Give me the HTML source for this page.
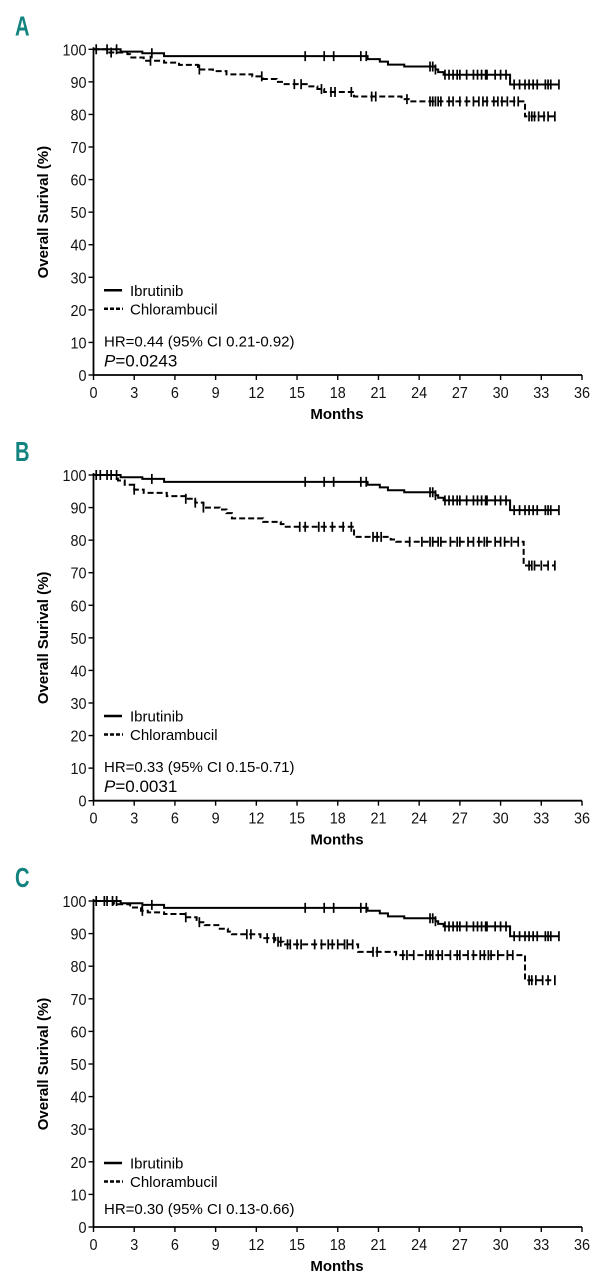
<!DOCTYPE html>
<html><head><meta charset="utf-8"><style>
html,body{margin:0;padding:0;background:#fff;}
svg{display:block;font-family:"Liberation Sans",Arial,sans-serif;}
</style></head><body>
<svg id="fig" width="601" height="1280" viewBox="0 0 601 1280"></svg>
<script>
// ---- data ----
const xTicks = [0,3,6,9,12,15,18,21,24,27,30,33,36];
const yTicks = [0,10,20,30,40,50,60,70,80,90,100];
const panelLabels = ["A","B","C"];
const hrTexts = ["HR=0.44 (95% CI 0.21-0.92)","HR=0.33 (95% CI 0.15-0.71)","HR=0.30 (95% CI 0.13-0.66)"];
const pTexts = ["=0.0243","=0.0031",""];
// Ibrutinib step curve (same in all panels): times, survival
const ibrT = [0,2.0,3.6,5.2,20.2,21.1,21.7,22.9,25.2,25.4,25.8,30.7,34.3];
const ibrS = [100,99.3,98.8,97.9,97.0,96.2,95.3,94.7,93.8,93.0,92.2,89.2,89.2];
const ibrCens = [0.2,1.0,1.7,4.3,15.6,17.0,17.7,19.7,20.1,24.8,25.0,25.2,25.9,26.2,26.5,26.8,27.0,27.5,28.0,28.3,28.6,28.9,29.0,29.6,30.0,30.4,31.0,31.4,31.8,32.1,32.4,32.7,33.3,33.5,33.7,34.3];
// Chlorambucil panels
const chlTA = [0,1.0,2.5,2.7,3.7,5.2,6.3,7.7,8.8,9.8,11.7,12.5,13.5,14.0,15.8,16.5,17.0,19.2,22.7,23.3,31.8,34.0];
const chlSA = [100,99.0,98.5,97.5,96.5,95.9,95.2,93.8,93.3,92.3,91.7,90.9,90.0,89.3,88.6,87.8,86.9,85.5,84.7,84.0,79.4,79.4];
const chlCA = [1.3,4.2,7.8,12.4,14.8,15.3,16.8,17.5,17.8,19.0,20.5,20.8,23.1,24.8,25.0,25.2,25.4,25.6,26.2,26.5,27.0,27.5,28.0,28.4,28.7,29.0,29.5,29.8,30.1,30.5,31.0,31.3,32.1,32.3,32.5,32.8,33.2,33.5,34.0];
const chlTB = [0,1.8,2.3,3.0,3.7,5.4,6.8,7.5,8.1,9.3,9.8,10.2,12.5,13.8,14.0,19.2,21.9,22.3,31.7,34.0];
const chlSB = [100,98.3,97.0,95.5,94.5,93.5,92.7,91.5,90.0,89.4,88.3,86.7,85.6,84.9,84.1,81.0,80.2,79.5,72.2,72.2];
const chlCB = [0.5,1.3,3.0,6.8,7.5,8.1,15.2,15.6,16.6,17.0,17.6,18.4,19.0,20.6,20.9,21.2,23.3,24.2,24.8,25.0,25.4,25.6,26.3,26.8,27.0,27.6,28.0,28.4,28.8,29.0,29.6,30.0,30.3,30.8,31.3,32.1,32.3,32.5,33.0,33.5,34.0];
const chlTC = [0,1.5,2.7,3.5,4.0,5.2,6.7,7.6,8.2,9.2,9.9,10.2,12.3,13.4,14.0,19.5,22.3,31.8,34.0];
const chlSC = [100,99.0,98.0,97.0,96.5,96.0,95.0,93.5,92.6,91.5,90.6,89.8,88.6,87.5,86.7,84.4,83.4,75.7,75.7];
const chlCC = [0.8,1.4,3.6,6.8,7.8,11.3,11.6,12.8,13.3,13.6,13.8,14.3,14.5,15.0,15.3,16.3,16.8,17.3,17.6,18.0,18.5,18.7,19.1,20.6,20.9,22.8,23.1,23.6,24.5,24.8,25.0,25.4,25.7,26.3,26.8,27.0,27.6,28.0,28.5,28.8,29.1,29.3,29.8,30.5,30.9,32.1,32.3,32.6,33.1,33.5,34.0];
const chlT = [chlTA,chlTB,chlTC], chlS=[chlSA,chlSB,chlSC], chlC=[chlCA,chlCB,chlCC];

const NS="http://www.w3.org/2000/svg";
const svg=document.getElementById('fig');
const X0=93.5, X1=582;
const yTop=[49.3,475,901], yBot=[375,800.7,1227];
function mk(tag,attrs,parent){const e=document.createElementNS(NS,tag);for(const k in attrs)e.setAttribute(k,attrs[k]);(parent||svg).appendChild(e);return e;}
function stepPath(T,S,sx,sy){let d='M'+sx(T[0])+','+sy(S[0]);for(let i=1;i<T.length;i++){d+=' H'+sx(T[i])+' V'+sy(S[i]);}return d;}
function survAt(T,S,t){let s=S[0];for(let i=0;i<T.length;i++){if(T[i]<=t)s=S[i];}return s;}

for(let p=0;p<3;p++){
  const g=mk('g',{});
  
  
  const sx=v=>X0+(X1-X0)*v/36;
  const sy=v=>yBot[p]-(yBot[p]-yTop[p])*v/100;
  const lab=mk('text',{x:0,y:0,'font-size':28,'font-weight':'bold',fill:'#13837f',transform:`translate(15,${yTop[p]-14}) scale(0.72,1)`},g);
  lab.textContent=panelLabels[p];
  
  
  // axes
  const ax=mk('path',{d:`M${X0},${yTop[p]-2} V${yBot[p]} H${X1}`,stroke:'#000','stroke-width':1.8,fill:'none'},g);
  
  
  yTicks.forEach(v=>{
    mk('line',{x1:X0-5,x2:X0,y1:sy(v),y2:sy(v),stroke:'#000','stroke-width':1.4},g);
    const t=mk('text',{x:0,y:0,'font-size':16,'text-anchor':'end',fill:'#111',transform:`translate(${X0-7},${sy(v)+6}) scale(0.9,1)`},g);
    t.textContent=v;
    
    
  });
  xTicks.forEach(v=>{
    mk('line',{x1:sx(v),x2:sx(v),y1:yBot[p],y2:yBot[p]+5,stroke:'#000','stroke-width':1.4},g);
    const t=mk('text',{x:0,y:0,'font-size':16,'text-anchor':'middle',fill:'#111',transform:`translate(${sx(v)},${yBot[p]+23}) scale(0.9,1)`},g);
    t.textContent=v;
    
    
  });
  const xt=mk('text',{x:337,y:yBot[p]+44,'font-size':15,'font-weight':'bold','text-anchor':'middle'},g);
  xt.textContent='Months';
  
  
  const ym=(yTop[p]+yBot[p])/2;
  const yt=mk('text',{x:0,y:0,'font-size':15,'font-weight':'bold','text-anchor':'middle',transform:`translate(48,${ym}) rotate(-90)`},g);
  yt.textContent='Overall Surival (%)';
  
  
  // curves
  const ib=mk('path',{d:stepPath(ibrT,ibrS,sx,sy),stroke:'#000','stroke-width':2,fill:'none'},g);
  
  
  const ch=mk('path',{d:stepPath(chlT[p],chlS[p],sx,sy),stroke:'#000','stroke-width':2,fill:'none','stroke-dasharray':'6,3'},g);
  
  
  ibrCens.forEach(c=>{const y=sy(survAt(ibrT,ibrS,c));
    const m=mk('line',{x1:sx(c),x2:sx(c),y1:y-5,y2:y+5,stroke:'#000','stroke-width':1.7},g);
    
    });
  chlC[p].forEach(c=>{const y=sy(survAt(chlT[p],chlS[p],c));
    const m=mk('line',{x1:sx(c),x2:sx(c),y1:y-5,y2:y+5,stroke:'#000','stroke-width':1.7},g);
    
    });
  // legend
  const ly=sy(100)+ (p===0?241:(p===1?241:262));
  const l1=mk('line',{x1:104,x2:122,y1:ly,y2:ly,stroke:'#000','stroke-width':2.5},g);
  
  
  const lt1=mk('text',{x:130,y:ly+5.5,'font-size':15},g);lt1.textContent='Ibrutinib';
  
  
  const l2=mk('line',{x1:104,x2:123,y1:ly+18.5,y2:ly+18.5,stroke:'#000','stroke-width':2.5,'stroke-dasharray':'4,2'},g);
  
  
  const lt2=mk('text',{x:130,y:ly+24,'font-size':15},g);lt2.textContent='Chlorambucil';
  
  
  const hy = p===2 ? ly+51 : ly+56;
  const hr=mk('text',{x:104,y:hy,'font-size':15},g);hr.textContent=hrTexts[p];
  
  
  if(pTexts[p]){
    const pt=mk('text',{x:104,y:hy+20,'font-size':17},g);
    const it=mk('tspan',{'font-style':'italic'},pt);it.textContent='P';
    const rest=mk('tspan',{},pt);rest.textContent=pTexts[p];
    
    
  }
}
</script>
</body></html>
